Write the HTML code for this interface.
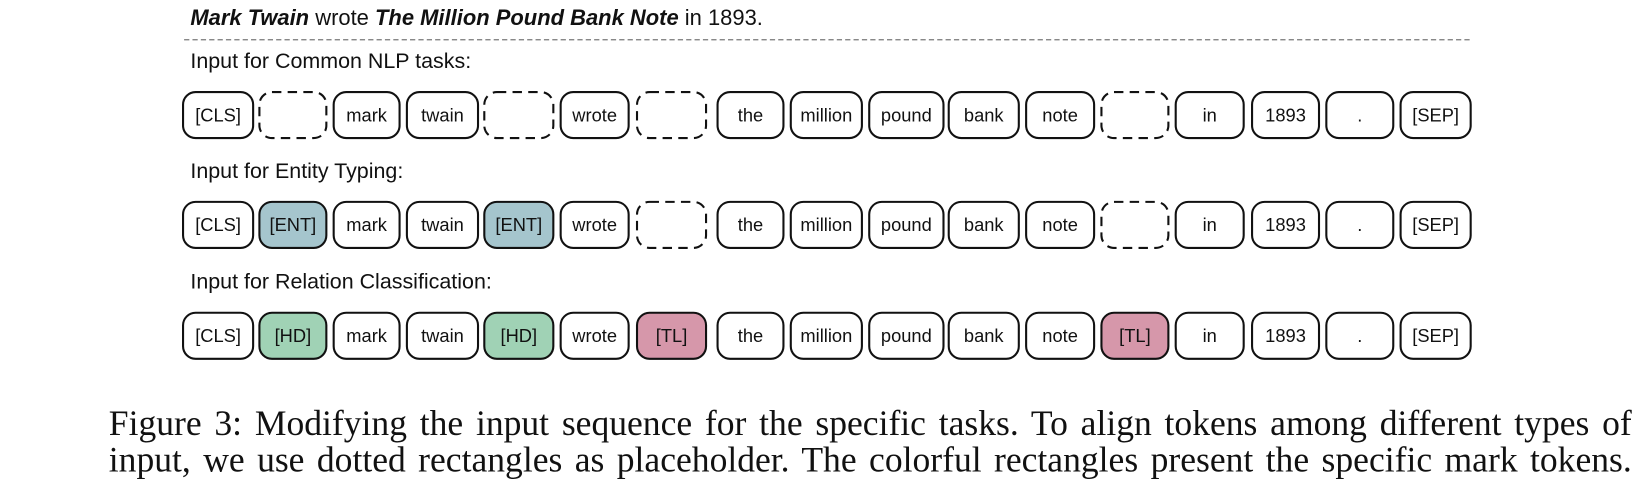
<!DOCTYPE html>
<html><head><meta charset="utf-8"><style>
body{margin:0;width:1640px;height:490px;background:#fff;overflow:hidden;position:relative;font-family:"Liberation Sans",sans-serif}
#wrap{position:absolute;left:0;top:0;width:1568px;height:469px;transform:scale(1.046);transform-origin:0 0}
.cap{position:absolute;left:104px;width:1456px;font-family:"Liberation Serif",serif;font-size:34px;line-height:35px;color:#111;text-align:justify;text-align-last:justify;white-space:nowrap}
</style></head><body>
<div id="wrap">
<svg id="fig" width="1568" height="370" style="position:absolute;left:0;top:0" font-family="Liberation Sans, sans-serif">
<text x="182" y="24" font-size="21" fill="#111"><tspan font-weight="bold" font-style="italic">Mark Twain</tspan> wrote <tspan font-weight="bold" font-style="italic">The Million Pound Bank Note</tspan> in 1893.</text>
<line x1="176" y1="38" x2="1408" y2="38" stroke="#777" stroke-width="1.3" stroke-dasharray="5,3"/>
</svg>
<div class="cap" style="top:388px">Figure 3: Modifying the input sequence for the specific tasks. To align tokens among different types of</div>
<div class="cap" style="top:423px">input, we use dotted rectangles as placeholder. The colorful rectangles present the specific mark tokens.</div>
</div>
<script>
const rowLabels=["Input for Common NLP tasks:","Input for Entity Typing:","Input for Relation Classification:"];
const row1=["[CLS]","","mark","twain","","wrote","","the","million","pound","bank","note","","in","1893",".","[SEP]"];
const row2=["[CLS]","[ENT]","mark","twain","[ENT]","wrote","","the","million","pound","bank","note","","in","1893",".","[SEP]"];
const row3=["[CLS]","[HD]","mark","twain","[HD]","wrote","[TL]","the","million","pound","bank","note","[TL]","in","1893",".","[SEP]"];
const rows=[row1,row2,row3];
const fills={"[ENT]":"#a5c5cd","[HD]":"#a0d2b5","[TL]":"#d697aa"};
const svg=document.getElementById('fig');
const NS="http://www.w3.org/2000/svg";
const rowY=[87,192,298];
const xs=[174,247,318,388,462,535,608,685,755,830,906,980,1052,1123,1196,1267,1338];
const ws=[69,66,65,70,68,67,68,65,70,73,69,67,66,67,66,66,69];
rows.forEach((r,ri)=>{
  const lab=document.createElementNS(NS,'text');
  
  
  lab.setAttribute('x',182);lab.setAttribute('y',rowY[ri]-22);
  lab.setAttribute('font-size',20.5);lab.setAttribute('fill','#111');
  lab.textContent=rowLabels[ri];svg.appendChild(lab);
  r.forEach((t,i)=>{
    const rc=document.createElementNS(NS,'rect');
    
    
    rc.setAttribute('x',xs[i]+1);rc.setAttribute('y',rowY[ri]+1);
    rc.setAttribute('width',ws[i]-2);rc.setAttribute('height',44);
    rc.setAttribute('rx',12);
    rc.setAttribute('fill',fills[t]||'#fff');
    rc.setAttribute('stroke','#111');rc.setAttribute('stroke-width',2);
    if(t==='')rc.setAttribute('stroke-dasharray','9,6');
    svg.appendChild(rc);
    if(t){
      const tx=document.createElementNS(NS,'text');
      
      
      tx.setAttribute('x',xs[i]+ws[i]/2);tx.setAttribute('y',rowY[ri]+29);
      tx.setAttribute('text-anchor','middle');tx.setAttribute('font-size',17.5);tx.setAttribute('fill','#111');
      tx.textContent=t;svg.appendChild(tx);
    }
  });
});
</script>
</body></html>
